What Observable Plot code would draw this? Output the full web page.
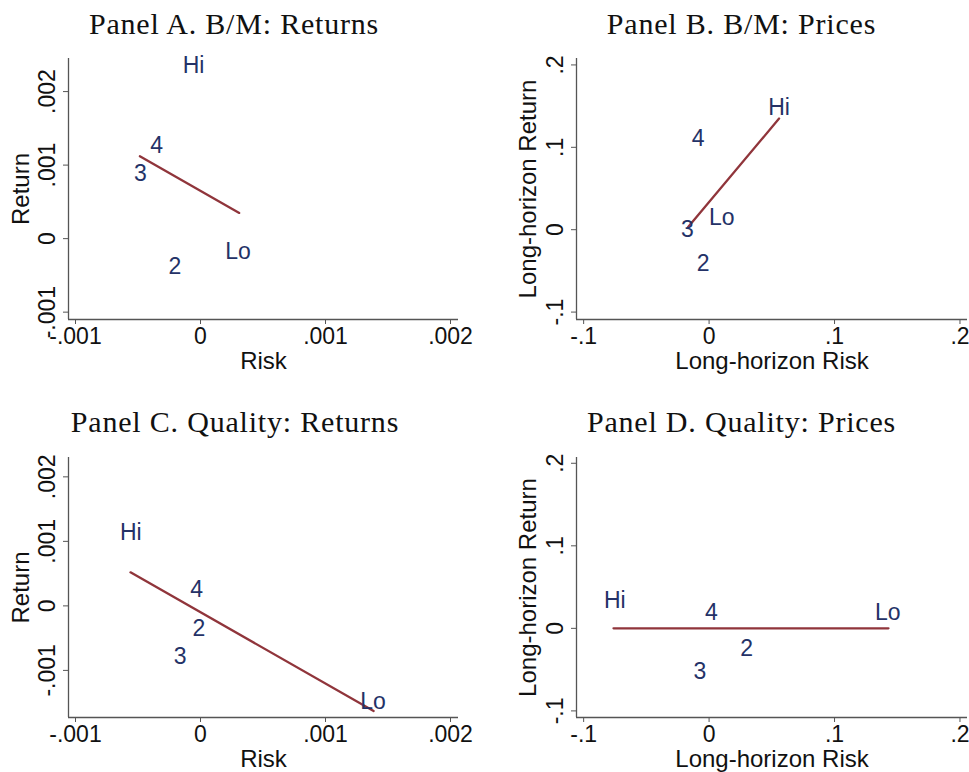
<!DOCTYPE html>
<html><head><meta charset="utf-8">
<script src="https://cdn.jsdelivr.net/npm/d3@7"></script>
<script src="https://cdn.jsdelivr.net/npm/@observablehq/plot@0.6"></script>
<style>
body{margin:0;background:#fff;}
#wrap{position:relative;width:969px;height:772px;overflow:hidden;background:#fff;}
.panel{position:absolute;}
.panel svg{display:block;overflow:visible;}
.title{position:absolute;width:500px;text-align:center;font-family:"Liberation Serif","Times New Roman",serif;font-size:30px;line-height:30px;letter-spacing:0.8px;color:#111;white-space:nowrap;}
</style></head><body><div id="wrap"></div>
<script>
// Portfolio labels (same order in every panel)
const portfolios = ["Lo", "2", "3", "4", "Hi"];

// Tick values and labels
const retTicks = [-0.001, 0, 0.001, 0.002];
const retTickLabels = ["-.001", "0", ".001", ".002"];
const priceTicks = [-0.1, 0, 0.1, 0.2];
const priceTickLabels = ["-.1", "0", ".1", ".2"];

// Panel A. B/M: Returns
const aRisk   = [0.00030, -0.000205, -0.00048, -0.00035, -0.000056];
const aReturn = [-0.00017, -0.00038, 0.00089, 0.00127, 0.00235];
const aLineX  = [-0.000485, 0.00031];
const aLineY  = [0.00112, 0.00035];
const aXRange = [-0.001056, 0.002064];
const aYRange = [-0.0011, 0.00245];

// Panel B. B/M: Prices
const bRisk   = [0.0101, -0.0048, -0.0172, -0.0088, 0.0558];
const bReturn = [0.0146, -0.0413, 0.0, 0.1106, 0.148];
const bLineX  = [-0.0167, 0.0558];
const bLineY  = [0.0032, 0.1349];
const bXRange = [-0.1057, 0.206];
const bYRange = [-0.109, 0.2078];

// Panel C. Quality: Returns
const cRisk   = [0.00138, -0.000013, -0.000162, -0.00003, -0.000558];
const cReturn = [-0.00148, -0.00035, -0.00078, 0.00025, 0.00114];
const cLineX  = [-0.00056, 0.001385];
const cLineY  = [0.00052, -0.00163];
const cXRange = [-0.001056, 0.002064];
const cYRange = [-0.00173, 0.0023];

// Panel D. Quality: Prices
const dRisk   = [0.1425, 0.030, -0.0074, 0.0019, -0.0752];
const dReturn = [0.0185, -0.0245, -0.0528, 0.0185, 0.0339];
const dLineX  = [-0.0762, 0.143];
const dLineY  = [0, 0];
const dXRange = [-0.1057, 0.206];
const dYRange = [-0.108, 0.207];

const navy = "#243267";
const maroon = "#90353b";
const axisColor = "#555";

const panels = [
  {title: "Panel A. B/M: Returns", risk: aRisk, ret: aReturn, lineX: aLineX, lineY: aLineY, xDomain: aXRange, yDomain: aYRange,
   xTicks: retTicks, xTickLabels: retTickLabels, yTicks: retTicks, yTickLabels: retTickLabels, xTitle: "Risk", yTitle: "Return",
   left: 0, top: 0, width: 485, height: 386, m: [58, 27, 67, 68], yLabelOffset: 57, titleCenter: 234, titleTop: 9},
  {title: "Panel B. B/M: Prices", risk: bRisk, ret: bReturn, lineX: bLineX, lineY: bLineY, xDomain: bXRange, yDomain: bYRange,
   xTicks: priceTicks, xTickLabels: priceTickLabels, yTicks: priceTicks, yTickLabels: priceTickLabels, xTitle: "Long-horizon Risk", yTitle: "Long-horizon Return",
   left: 485, top: 0, width: 484, height: 386, m: [58, 2, 67, 91], yLabelOffset: 58, titleCenter: 741.5, titleTop: 9},
  {title: "Panel C. Quality: Returns", risk: cRisk, ret: cReturn, lineX: cLineX, lineY: cLineY, xDomain: cXRange, yDomain: cYRange,
   xTicks: retTicks, xTickLabels: retTickLabels, yTicks: retTicks, yTickLabels: retTickLabels, xTitle: "Risk", yTitle: "Return",
   left: 0, top: 390, width: 485, height: 382, m: [67, 27, 55, 68], yLabelOffset: 57, titleCenter: 235, titleTop: 407},
  {title: "Panel D. Quality: Prices", risk: dRisk, ret: dReturn, lineX: dLineX, lineY: dLineY, xDomain: dXRange, yDomain: dYRange,
   xTicks: priceTicks, xTickLabels: priceTickLabels, yTicks: priceTicks, yTickLabels: priceTickLabels, xTitle: "Long-horizon Risk", yTitle: "Long-horizon Return",
   left: 485, top: 390, width: 484, height: 382, m: [67, 2, 55, 91], yLabelOffset: 58, titleCenter: 741.5, titleTop: 407}
];

const wrap = document.getElementById("wrap");

for (const p of panels) {
  const idx = d3.range(p.risk.length);
  const lineIdx = d3.range(p.lineX.length);
  const xFmt = new Map(p.xTicks.map((t, i) => [t, p.xTickLabels[i]]));
  const yFmt = new Map(p.yTicks.map((t, i) => [t, p.yTickLabels[i]]));

  const chart = Plot.plot({
    width: p.width,
    height: p.height,
    marginTop: p.m[0], marginRight: p.m[1], marginBottom: p.m[2], marginLeft: p.m[3],
    x: {domain: p.xDomain},
    y: {domain: p.yDomain},
    style: {fontFamily: "'Liberation Sans', Arial, sans-serif", fontSize: "23px", background: "white", color: "#111", overflow: "visible"},
    marks: [
      Plot.ruleY([p.yDomain[0]], {stroke: axisColor, strokeWidth: 1.3}),
      Plot.ruleX([p.xDomain[0]], {stroke: axisColor, strokeWidth: 1.3}),
      Plot.axisX({ticks: p.xTicks, tickFormat: d => xFmt.get(d), tickSize: 5, tickPadding: 3, stroke: axisColor, fill: "#111",
        fontSize: 23, label: null}),
      Plot.axisX({ticks: [], tickSize: 0, fill: "#111", fontSize: 24,
        label: p.xTitle, labelAnchor: "center", labelOffset: 49.5, labelArrow: "none"}),
      Plot.axisY({ticks: p.yTicks, tickFormat: d => yFmt.get(d), tickSize: 5, tickPadding: 9, tickRotate: -90, stroke: axisColor, fill: "#111",
        fontSize: 23, label: null}),
      Plot.axisY({ticks: [], tickSize: 0, fill: "#111", fontSize: 24,
        label: p.yTitle, labelAnchor: "center", labelOffset: p.yLabelOffset, labelArrow: "none"}),
      Plot.line(lineIdx, {x: i => p.lineX[i], y: i => p.lineY[i], stroke: maroon, strokeWidth: 2.3}),
      Plot.text(idx, {x: i => p.risk[i], y: i => p.ret[i], text: i => portfolios[i], fill: navy, fontSize: 23,
        textAnchor: "middle", lineAnchor: "middle"})
    ]
  });

  const div = document.createElement("div");
  div.className = "panel";
  div.style.left = p.left + "px";
  div.style.top = p.top + "px";
  div.appendChild(chart);
  wrap.appendChild(div);

  const t = document.createElement("div");
  t.className = "title";
  t.textContent = p.title;
  t.style.left = (p.titleCenter - 250) + "px";
  t.style.top = p.titleTop + "px";
  wrap.appendChild(t);
}
</script></body></html>
